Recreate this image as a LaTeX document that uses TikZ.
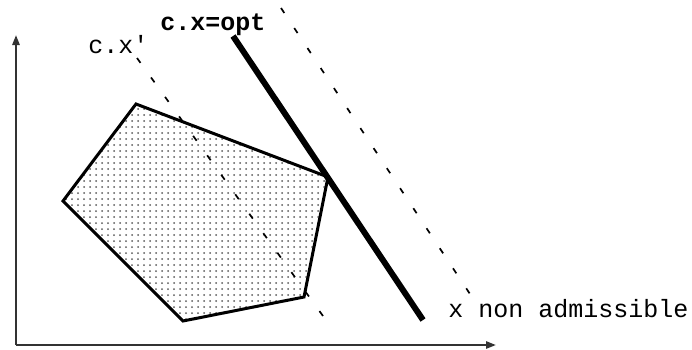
\documentclass[tikz,border=0pt]{standalone}
\usepackage{fontspec}
\setmonofont{Liberation Mono}
\usetikzlibrary{arrows.meta,patterns}
\tikzset{
  axe/.style={line width=1pt,draw=black!80,-{Triangle[length=5pt,width=3.6pt]}},
  domaine/.style={line width=1.5pt,line join=miter,pattern=dots,pattern color=black!65},
  optim/.style={line width=3pt},
  niveau/.style={line width=0.85pt,dash pattern=on 3pt off 9pt},
  etiq/.style={inner sep=0pt,anchor=base west,font=\ttfamily\fontsize{12.5}{15}\selectfont},
}

\begin{document}
\begin{tikzpicture}[x=0.5pt,y=-0.5pt]
  \useasboundingbox (0,0) rectangle (692,349);
  % axes
  \coordinate (O) at (16,345);
  \coordinate (Ox) at (496,345);
  \coordinate (Oy) at (16,35);
  \draw[axe] (O) -- (Ox);
  \draw[axe] (O) -- (Oy);
  % sommets du domaine
  \coordinate (s1) at (136,104);
  \coordinate (s2) at (328,177);
  \coordinate (s3) at (304,297);
  \coordinate (s4) at (183,321);
  \coordinate (s5) at (63,201);
  \draw[domaine] (s1) -- (s2) -- (s3) -- (s4) -- (s5) -- cycle;
  % droites de niveau
  \coordinate (d1) at (137,58);
  \coordinate (d2) at (323,316);
  \coordinate (o1) at (233,36);
  \coordinate (o2) at (423,320);
  \coordinate (n1) at (281,8);
  \coordinate (n2) at (470,294);
  \draw[niveau] (d1) -- (d2);
  \draw[optim] (o1) -- (o2);
  \draw[niveau] (n1) -- (n2);
  % textes
  \node[etiq] (cx) at (88,53) {c.x'};
  \node[etiq,font=\ttfamily\bfseries\fontsize{12.5}{15}\selectfont] (copt) at (160,30) {c.x=opt};
  \node[etiq] (nonadm) at (448,317) {x non admissible};
\end{tikzpicture}
\end{document}
